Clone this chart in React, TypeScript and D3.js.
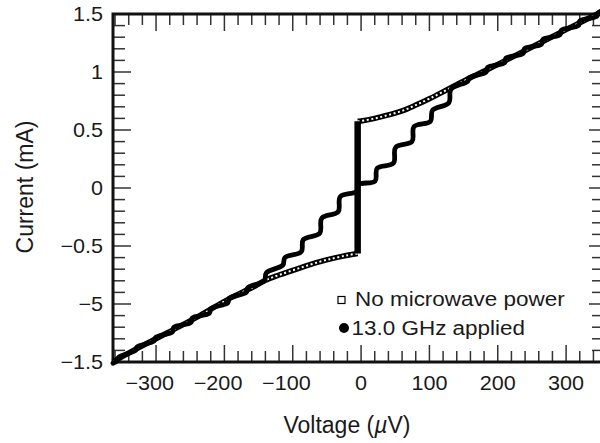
import React from 'react';
import * as d3 from 'd3';

// ---- data ----
const xTickValues = [-300, -200, -100, 0, 100, 200, 300];
const xTickLabels = ['\u2212300', '\u2212200', '\u2212100', '0', '100', '200', '300'];
const yTickValues = [-1.5, -1, -0.5, 0, 0.5, 1, 1.5];
const yTickLabels = ['\u22121.5', '\u22125', '\u22120.5', '0', '0.5', '1', '1.5'];

// No microwave power (open squares): resistive branches, voltage in µV, current in mA
const noMicrowaveLower: [number, number][] = [
  [-363, -1.5], [-333, -1.4], [-284, -1.25], [-236, -1.1], [-190, -0.945], [-160, -0.86],
  [-140, -0.795], [-120, -0.75], [-90, -0.69], [-60, -0.635], [-40, -0.605], [-20, -0.58], [-5, -0.565],
];
const noMicrowaveUpper: [number, number][] = [
  [-5, 0.575], [0, 0.578], [20, 0.6], [40, 0.63], [60, 0.665], [80, 0.715], [100, 0.77],
  [130, 0.86], [160, 0.95], [200, 1.065], [250, 1.215], [300, 1.365], [354, 1.525],
];
// zero-voltage supercurrent branch
const supercurrent: [number, number][] = [[-5, -0.565], [-5, 0.575]];

// 13.0 GHz applied (filled dots): Shapiro step staircase
const microwave13GHz: [number, number][] = [
  [-363, -1.51],
  [-357, -1.49], [-355, -1.46],
  [-330, -1.40], [-328, -1.37],
  [-303, -1.32], [-301, -1.29],
  [-276, -1.24], [-274, -1.20],
  [-249, -1.16], [-247, -1.12],
  [-222, -1.08], [-220, -1.04],
  [-195, -0.99], [-193, -0.95],
  [-168, -0.90], [-166, -0.86],
  [-141.5, -0.80], [-138.5, -0.73],
  [-114.5, -0.665], [-111.5, -0.60],
  [-87.5, -0.55], [-84.5, -0.445],
  [-60.5, -0.39], [-57.5, -0.26],
  [-33.5, -0.205], [-30.5, -0.075],
  [-6.5, -0.03], [-3.5, 0.03],
  [20.5, 0.06], [23.5, 0.17],
  [47.5, 0.215], [50.5, 0.35],
  [74.5, 0.40], [77.5, 0.53],
  [101.5, 0.575], [104.5, 0.67],
  [128.5, 0.735], [131.5, 0.85],
  [156, 0.92], [158, 0.95],
  [183, 1.0], [185, 1.04],
  [210, 1.08], [212, 1.12],
  [237, 1.16], [239, 1.20],
  [264, 1.24], [266, 1.28],
  [291, 1.32], [293, 1.36],
  [318, 1.40], [320, 1.44],
  [345, 1.48], [347, 1.51],
  [354, 1.53],
];

const legendLabels = ['No microwave power', '13.0 GHz applied'];

// ---- layout ----
const W = 600;
const H = 443;
const left = 113, right = 603, top = 14, bottom = 362;

export default function App() {
  const x = d3.scaleLinear().domain([-363, 354]).range([left, right]);
  const y = d3.scaleLinear().domain([-1.5, 1.5]).range([bottom, top]);
  const line = d3.line<[number, number]>().x(d => x(d[0])).y(d => y(d[1]));
  const smooth = d3.line<[number, number]>().x(d => x(d[0])).y(d => y(d[1])).curve(d3.curveCatmullRom.alpha(0.5));

  const xMinor = d3.range(-360, 360, 20);
  const yMinor = d3.range(-15, 16, 1).map(v => v / 10);
  const font = "'Liberation Sans', Arial, Helvetica, sans-serif";
  const tickCol = '#333';
  const textCol = '#1a1a1a';

  return (
    <svg width={W} height={H} style={{ position: 'absolute', left: 0, top: 0, display: 'block', background: '#fff' }}>
      <rect x={0} y={0} width={W} height={H} fill="#fff" />
      {/* ticks */}
      <g stroke={tickCol} strokeWidth={1.5}>
        {xMinor.map(v => {
          const major = v % 100 === 0;
          const len = major ? 17 : 11;
          return (
            <g key={'xt' + v}>
              <line x1={x(v)} x2={x(v)} y1={bottom} y2={bottom - len} />
              <line x1={x(v)} x2={x(v)} y1={top} y2={top + len} />
            </g>
          );
        })}
        {yMinor.map(v => {
          const major = Math.abs(Math.round(v * 10)) % 5 === 0;
          return (
            <g key={'yt' + v}>
              <line x1={left} x2={left + (major ? 18 : 12)} y1={y(v)} y2={y(v)} />
              <line x1={right} x2={right - (major ? 14 : 11)} y1={y(v)} y2={y(v)} />
            </g>
          );
        })}
      </g>
      {/* frame */}
      <rect x={left} y={top} width={right - left} height={bottom - top} fill="none" stroke="#111" strokeWidth={3} />

      {/* no microwave: chain of open squares */}
      {[noMicrowaveLower, noMicrowaveUpper].map((s, i) => (
        <g key={'sq' + i}>
          <path d={smooth(s) || ''} fill="none" stroke="#000" strokeWidth={5.5} strokeLinejoin="round" />
          <path d={smooth(s) || ''} fill="none" stroke="#fff" strokeWidth={2} strokeDasharray="2 2.6" />
        </g>
      ))}
      {/* microwave staircase */}
      <path d={smooth(microwave13GHz) || ''} fill="none" stroke="#000" strokeWidth={4.8} strokeLinejoin="round" strokeLinecap="round" />
      {/* supercurrent */}
      <path d={line(supercurrent) || ''} fill="none" stroke="#000" strokeWidth={6.5} />

      {/* y tick labels */}
      {yTickValues.map((v, i) => (
        <g key={'yl' + v} transform={`translate(103,${y(v) + 7}) scale(1.08,1)`}>
          <text textAnchor="end" fontFamily={font} fontSize={20} fill={textCol}>{yTickLabels[i]}</text>
        </g>
      ))}
      {/* x tick labels */}
      {xTickValues.map((v, i) => (
        <g key={'xl' + v} transform={`translate(${v === 0 ? x(v) : x(v) + 18},390) scale(1.08,1)`}>
          <text textAnchor={v === 0 ? 'middle' : 'end'} fontFamily={font} fontSize={20} fill={textCol}>{xTickLabels[i]}</text>
        </g>
      ))}
      {/* axis titles */}
      <text x={347} y={433} textAnchor="middle" fontFamily={font} fontSize={23} fill={textCol}>
        Voltage (<tspan fontStyle="italic">µ</tspan>V)
      </text>
      <text transform="translate(33,187) rotate(-90)" textAnchor="middle" fontFamily={font} fontSize={23} fill={textCol}>
        Current (mA)
      </text>

      {/* legend */}
      <rect x={338} y={296.5} width={7} height={7} fill="#fff" stroke="#000" strokeWidth={1.2} />
      <g transform="translate(355,306) scale(1.07,1)">
        <text fontFamily={font} fontSize={21} fill={textCol}>{legendLabels[0]}</text>
      </g>
      <circle cx={344} cy={328} r={5} fill="#000" />
      <g transform="translate(351.5,335) scale(1.07,1)">
        <text fontFamily={font} fontSize={21} fill={textCol}>{legendLabels[1]}</text>
      </g>
    </svg>
  );
}
